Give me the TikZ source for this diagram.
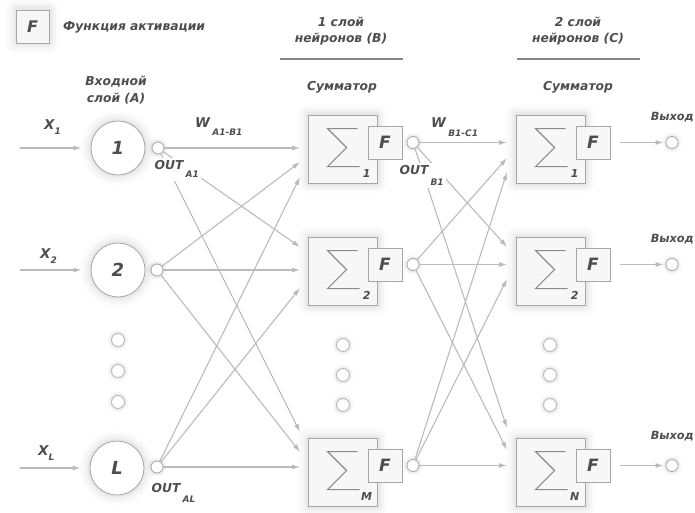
\documentclass[tikz,border=0pt]{standalone}
\usepackage{fontspec}
\setmainfont{DejaVu Sans}
\usetikzlibrary{arrows.meta}
\definecolor{txtc}{HTML}{4E4E4E}
\definecolor{linec}{HTML}{BBBBBB}
\definecolor{boxd}{HTML}{A6A6A6}
\definecolor{boxf}{HTML}{F7F7F7}
\definecolor{rulec}{HTML}{858585}
\definecolor{sigc}{HTML}{8C8C8C}
\newcommand\subtxt[2]{\raisebox{#1}{\fontsize{9}{9}\selectfont #2}}
\newcommand\sigmaat[2]{%
  \begin{scope}[shift={(#1.north west)}]
    \draw[sigl] (50,14) -- (20,14) -- (39,33) -- (20,52) -- (52,52);
    \node[idx] (#1idx) at (59,59) {#2};
  \end{scope}}
\begin{document}
\begin{tikzpicture}[x=1pt,y=-1pt,
  glow/.style={
    preaction={draw=black,draw opacity=0.016,line width=20pt,line join=round},
    preaction={draw=black,draw opacity=0.02,line width=14pt,line join=round},
    preaction={draw=black,draw opacity=0.024,line width=9pt,line join=round},
    preaction={draw=black,draw opacity=0.028,line width=5pt,line join=round}},
  smallglow/.style={
    preaction={draw=black,draw opacity=0.03,line width=7pt},
    preaction={draw=black,draw opacity=0.04,line width=4pt}},
  txt/.style={font=\fontsize{12.3}{16.5}\selectfont\bfseries\itshape,text=txtc,inner sep=0pt},
  lbl/.style={txt,fill=white,inner sep=2.5pt},
  idx/.style={font=\fontsize{11}{11}\selectfont\bfseries\itshape,text=txtc,inner sep=0pt},
  neuron/.style={circle,draw=boxd,line width=0.8pt,fill=white,minimum size=54pt,inner sep=0pt,glow,
    font=\fontsize{18}{18}\selectfont\bfseries\itshape,text=txtc},
  outc/.style={circle,draw=boxd,line width=0.8pt,fill=white,minimum size=12pt,inner sep=0pt,smallglow},
  dotc/.style={circle,draw=boxd!80,line width=0.9pt,fill=white,minimum size=13pt,inner sep=0pt,smallglow},
  sumbox/.style={rectangle,draw=boxd,line width=0.8pt,fill=boxf,minimum width=69pt,minimum height=68pt,inner sep=0pt,glow},
  fbx/.style={rectangle,draw=boxd,line width=0.8pt,fill=boxf,minimum width=34pt,minimum height=33pt,inner sep=0pt,
    font=\fontsize{17}{17}\selectfont\bfseries\itshape,text=txtc},
  conn/.style={draw=linec,line width=1.1pt},
  arr/.style={conn,-{Latex[length=8pt,width=5pt]}},
  sigl/.style={draw=sigc,line width=1.1pt,line join=miter},
  rulel/.style={draw=rulec,line width=1.6pt},
]
\useasboundingbox (0,0) rectangle (695,513);
\fill[white] (0,0) rectangle (695,513);

% legend
\node[fbx,glow,minimum width=33pt,minimum height=33pt,font=\fontsize{16}{16}\selectfont\bfseries\itshape] (leg) at (32.5,26.5) {F};
\node[txt,anchor=west] (legt) at (63,27) {Функция активации};

% headers
\node[txt,align=center] (hA) at (116,90) {Входной\\слой (A)};
\node[txt,align=center] (hB) at (341,31) {1 слой\\нейронов (B)};
\coordinate (rB1) at (280,59); \coordinate (rB2) at (403,59);
\draw[rulel] (rB1) -- (rB2);
\node[txt] (sB) at (342,87) {Сумматор};
\node[txt,align=center] (hC) at (578,31) {2 слой\\нейронов (C)};
\coordinate (rC1) at (517,59); \coordinate (rC2) at (640,59);
\draw[rulel] (rC1) -- (rC2);
\node[txt] (sC) at (578,87) {Сумматор};

% input layer
\node[neuron] (a1) at (118,148) {1};
\node[neuron] (a2) at (118,270) {2};
\node[neuron] (aL) at (117,468) {L};
\node[outc] (a1o) at (158,148) {};
\node[outc] (a2o) at (157,270) {};
\node[outc] (aLo) at (157,467) {};
\node[dotc] (ad1) at (118,340) {};
\node[dotc] (ad2) at (118,371) {};
\node[dotc] (ad3) at (118,402) {};
\coordinate (x1s) at (20,148);
\coordinate (x2s) at (20,270);
\coordinate (xLs) at (20,468);
\draw[arr,shorten >=9pt] (x1s) -- (a1);
\draw[arr,shorten >=9pt] (x2s) -- (a2);
\draw[arr,shorten >=9pt] (xLs) -- (aL);

% layer B
\node[sumbox] (b1) at (342.5,149) {};
\node[sumbox] (b2) at (342.5,271) {};
\node[sumbox] (bM) at (342.5,472) {};
\sigmaat{b1}{1}
\sigmaat{b2}{2}
\sigmaat{bM}{M}
\node[fbx] (b1f) at (385,142.5) {F};
\node[fbx] (b2f) at (385,264.5) {F};
\node[fbx] (bMf) at (385,465.5) {F};
\node[outc] (b1o) at (413,142.5) {};
\node[outc] (b2o) at (413,264.5) {};
\node[outc] (bMo) at (413,465.5) {};
\node[dotc] (bd1) at (343,345) {};
\node[dotc] (bd2) at (343,375) {};
\node[dotc] (bd3) at (343,405) {};

% layer C
\node[sumbox] (c1) at (550.5,149) {};
\node[sumbox] (c2) at (550.5,271) {};
\node[sumbox] (cN) at (550.5,472) {};
\sigmaat{c1}{1}
\sigmaat{c2}{2}
\sigmaat{cN}{N}
\node[fbx] (c1f) at (593,142.5) {F};
\node[fbx] (c2f) at (593,264.5) {F};
\node[fbx] (cNf) at (593,465.5) {F};
\node[outc] (c1o) at (672,142.5) {};
\node[outc] (c2o) at (672,264.5) {};
\node[outc] (cNo) at (672,465.5) {};
\node[dotc] (cd1) at (550,345) {};
\node[dotc] (cd2) at (550,375) {};
\node[dotc] (cd3) at (550,405) {};
\draw[arr,shorten <=10pt,shorten >=2pt] (c1f) -- (c1o);
\draw[arr,shorten <=10pt,shorten >=2pt] (c2f) -- (c2o);
\draw[arr,shorten <=10pt,shorten >=2pt] (cNf) -- (cNo);
\node[txt,anchor=east,font=\fontsize{11.3}{13}\selectfont\bfseries\itshape] (y1) at (694,117) {Выход};
\node[txt,anchor=east,font=\fontsize{11.3}{13}\selectfont\bfseries\itshape] (y2) at (694,239) {Выход};
\node[txt,anchor=east,font=\fontsize{11.3}{13}\selectfont\bfseries\itshape] (yN) at (694,436) {Выход};

% A -> B targets
\coordinate (tB1a) at (300,148);
\coordinate (tB1b) at (300,162);
\coordinate (tB1c) at (300,177);
\coordinate (tB2a) at (300,247);
\coordinate (tB2b) at (300,270);
\coordinate (tB2c) at (300,288);
\coordinate (tBMa) at (300,432);
\coordinate (tBMb) at (300,452);
\coordinate (tBMc) at (300,467);
\draw[arr] (a1o) -- (tB1a);
\draw[arr] (a1o) -- (tB2a);
\draw[arr] (a1o) -- (tBMa);
\draw[arr] (a2o) -- (tB1b);
\draw[arr] (a2o) -- (tB2b);
\draw[arr] (a2o) -- (tBMb);
\draw[arr] (aLo) -- (tB1c);
\draw[arr] (aLo) -- (tB2c);
\draw[arr] (aLo) -- (tBMc);

% B -> C targets
\coordinate (tC1a) at (507,142.5);
\coordinate (tC1b) at (507,158);
\coordinate (tC1c) at (507,172);
\coordinate (tC2a) at (507,247);
\coordinate (tC2b) at (507,264.5);
\coordinate (tC2c) at (507,279);
\coordinate (tCNa) at (507,428);
\coordinate (tCNb) at (507,450);
\coordinate (tCNc) at (507,465.5);
\draw[arr] (b1o) -- (tC1a);
\draw[arr] (b1o) -- (tC2a);
\draw[arr] (b1o) -- (tCNa);
\draw[arr] (b2o) -- (tC1b);
\draw[arr] (b2o) -- (tC2b);
\draw[arr] (b2o) -- (tCNb);
\draw[arr] (bMo) -- (tC1c);
\draw[arr] (bMo) -- (tC2c);
\draw[arr] (bMo) -- (tCNc);

% labels
\node[txt,anchor=base west,font=\fontsize{13.5}{13.5}\selectfont\bfseries\itshape] (lx1) at (44,130) {X\subtxt{-5pt}{1}};
\node[txt,anchor=base west,font=\fontsize{13.5}{13.5}\selectfont\bfseries\itshape] (lx2) at (40,258) {X\subtxt{-5pt}{2}};
\node[txt,anchor=base west,font=\fontsize{13.5}{13.5}\selectfont\bfseries\itshape] (lxL) at (38,455) {X\subtxt{-5pt}{L}};
\node[txt,anchor=base west,font=\fontsize{13.5}{13.5}\selectfont\bfseries\itshape] (wab) at (195,128) {W\,\subtxt{-8pt}{A1-B1}};
\node[txt,anchor=base west,font=\fontsize{13.5}{13.5}\selectfont\bfseries\itshape] (wbc) at (431,128) {W\,\subtxt{-9pt}{B1-C1}};
\node[lbl,anchor=base west] (oa1) at (152,170) {OUT\,\subtxt{-8pt}{A1}};
\node[lbl,anchor=base west] (ob1) at (397,175) {OUT\,\subtxt{-10pt}{B1}};
\node[lbl,anchor=base west] (oaL) at (149,492) {OUT\,\subtxt{-10pt}{AL}};
\end{tikzpicture}
\end{document}
